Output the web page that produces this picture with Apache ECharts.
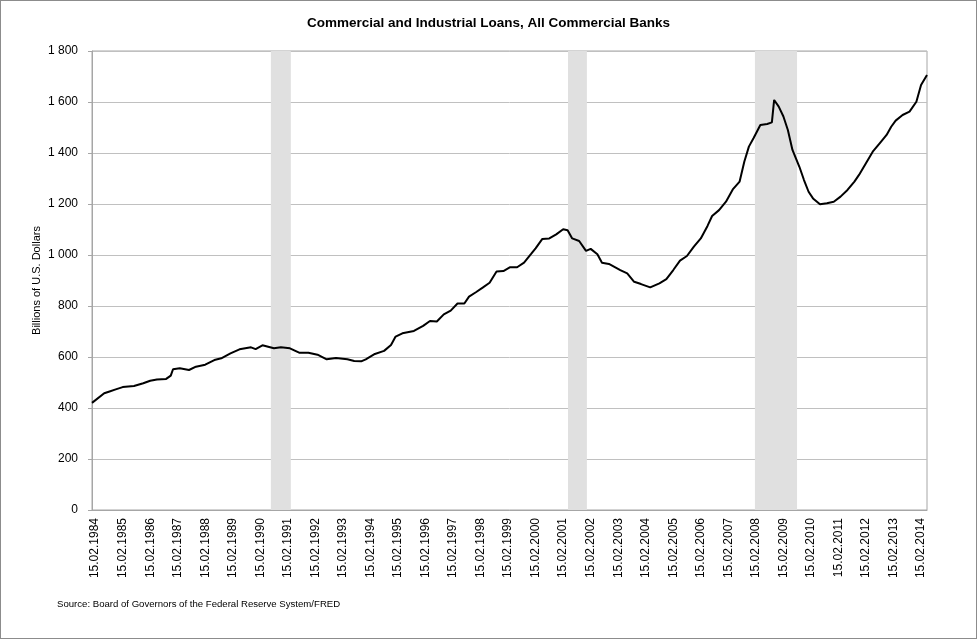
<!DOCTYPE html>
<html>
<head>
<meta charset="utf-8">
<title>Commercial and Industrial Loans</title>
<script src="https://cdn.jsdelivr.net/npm/echarts@6/dist/echarts.min.js"></script>
<style>
  html, body { margin: 0; padding: 0; background: #fff; }
  #chart { width: 975px; height: 637px; border: 1px solid #8c8c8c; }
</style>
</head>
<body>
<div id="chart"></div>
<script>
// dates (15th of month unless noted) and loan values, billions of USD
var dates = [
  '1984-01-05','1984-06-15','1984-08-15','1984-11-15','1985-02-15','1985-07-15','1985-11-15',
  '1986-02-15','1986-05-15','1986-09-15','1986-11-15','1986-12-15','1987-03-15','1987-07-15','1987-10-15',
  '1988-02-15','1988-06-15','1988-09-15','1989-01-15','1989-05-15','1989-10-15','1989-12-15',
  '1990-03-15','1990-08-15','1990-11-15','1991-03-15','1991-07-15','1991-11-15',
  '1992-03-15','1992-07-15','1992-11-15','1993-04-15','1993-07-15','1993-10-15','1993-12-15',
  '1994-04-15','1994-08-15','1994-11-15','1995-01-15','1995-04-15','1995-09-15',
  '1996-01-15','1996-04-15','1996-07-15','1996-10-15','1997-01-15','1997-04-15','1997-07-15','1997-09-15','1997-12-15',
  '1998-03-15','1998-06-15','1998-09-15','1998-12-15','1999-03-15','1999-06-15','1999-09-15','1999-12-15',
  '2000-02-15','2000-05-15','2000-08-15','2000-11-15','2001-02-15','2001-04-15','2001-06-15','2001-09-15','2001-12-15',
  '2002-02-15','2002-05-15','2002-07-15','2002-10-15','2003-03-15','2003-06-15','2003-09-15','2003-12-15',
  '2004-04-15','2004-08-15','2004-11-15','2005-02-15','2005-05-15','2005-08-15','2005-11-15',
  '2006-02-15','2006-05-15','2006-07-15','2006-10-15','2007-01-15','2007-04-15','2007-07-15','2007-09-15','2007-11-15',
  '2008-01-15','2008-04-15','2008-07-15','2008-09-15','2008-10-15','2008-12-15',
  '2009-02-15','2009-04-15','2009-06-15','2009-09-15','2009-11-15',
  '2010-01-15','2010-03-15','2010-06-15','2010-09-15','2010-12-15',
  '2011-03-15','2011-06-15','2011-09-15','2011-11-15','2012-02-15','2012-05-15','2012-08-15','2012-11-15',
  '2013-01-15','2013-03-15','2013-06-15','2013-09-15','2013-12-15','2014-02-15','2014-05-05'
];
var loans = [
  420, 458, 464, 473, 482, 486, 497,
  507, 512, 514, 527, 552, 556, 549, 562,
  570, 588, 595, 614, 630, 638, 631,
  646, 634, 638, 634, 617, 617,
  609, 591, 596, 591, 584, 583, 591,
  612, 624, 647, 680, 693, 702,
  722, 741, 739, 767, 782, 810, 810, 837, 854,
  872, 891, 935, 937, 952, 952, 970, 1003,
  1026, 1063, 1065, 1081, 1101, 1097, 1065, 1055, 1016,
  1024, 1003, 970, 965, 941, 928, 895, 886,
  873, 889, 905, 941, 978, 996, 1033,
  1065, 1114, 1153, 1176, 1209, 1257, 1288, 1366, 1425,
  1458, 1510, 1514, 1520, 1608, 1582,
  1543, 1490, 1412, 1346, 1294,
  1248, 1222, 1199, 1203, 1209,
  1229, 1255, 1288, 1314, 1360, 1405, 1438, 1471,
  1503, 1527, 1549, 1562, 1601, 1667, 1706
];
// recession shading
var recessionStart = ['1990-07-05', '2001-04-20', '2008-02-03'];
var recessionEnd   = ['1991-03-27', '2001-12-27', '2009-08-15'];
// x labels: 15.02.YYYY every year
var labelYears = [];
for (var y = 1984; y <= 2014; y++) labelYears.push(y);

function ts(s) {
  var p = s.split('-');
  return new Date(+p[0], +p[1] - 1, +p[2]).getTime();
}

var lineData = dates.map(function (d, i) { return [ts(d), loans[i]]; });
var areas = recessionStart.map(function (s, i) {
  return [{ xAxis: ts(s) }, { xAxis: ts(recessionEnd[i]) }];
});
var labelTicks = labelYears.map(function (y) { return new Date(y, 1, 15).getTime(); });

var font = 'Liberation Sans';
var chart = echarts.init(document.getElementById('chart'));

var option = {
  animation: false,
  title: {
    text: 'Commercial and Industrial Loans, All Commercial Banks',
    left: 'center',
    top: 10,
    textStyle: { fontFamily: font, fontSize: 13.5, fontWeight: 'bold', color: '#000' }
  },
  grid: {
    left: 91, right: 49, top: 50, bottom: 128,
    show: true, borderColor: '#a6a6a6', borderWidth: 1
  },
  graphic: [{
    type: 'text',
    left: 56,
    top: 598,
    style: {
      text: 'Source: Board of Governors of the Federal Reserve System/FRED',
      fontFamily: font, fontSize: 9.6, fill: '#000'
    }
  }],
  xAxis: {
    type: 'value',
    min: ts(dates[0]),
    max: ts(dates[dates.length - 1]),
    axisLine: { show: true, lineStyle: { color: '#a6a6a6' } },
    axisTick: { show: false },
    splitLine: { show: false },
    axisLabel: {
      customValues: labelTicks,
      rotate: 90,
      margin: 8,
      fontFamily: font, fontSize: 12, color: '#000',
      formatter: function (v) {
        var d = new Date(v);
        var dd = ('0' + d.getDate()).slice(-2);
        var mm = ('0' + (d.getMonth() + 1)).slice(-2);
        return dd + '.' + mm + '.' + d.getFullYear();
      }
    }
  },
  yAxis: {
    type: 'value',
    min: 0, max: 1800, interval: 200,
    name: 'Billions of U.S. Dollars',
    nameLocation: 'middle',
    nameGap: 50,
    nameMoveOverlap: false,
    nameTextStyle: { fontFamily: font, fontSize: 11, color: '#000' },
    axisLine: { show: true, lineStyle: { color: '#a6a6a6' } },
    axisTick: { show: true, length: 4, lineStyle: { color: '#a6a6a6' } },
    splitLine: { lineStyle: { color: '#c0c0c0' } },
    axisLabel: {
      margin: 14,
      fontFamily: font, fontSize: 12, color: '#000',
      formatter: function (v) {
        return String(v).replace(/\B(?=(\d{3})+(?!\d))/g, ' ');
      }
    }
  },
  series: [{
    type: 'line',
    data: lineData,
    showSymbol: false,
    lineStyle: { color: '#000', width: 2 },
    markArea: {
      silent: true,
      itemStyle: { color: '#e0e0e0' },
      data: areas
    },
    z: 3
  }]
};

chart.setOption(option);
</script>
</body>
</html>
